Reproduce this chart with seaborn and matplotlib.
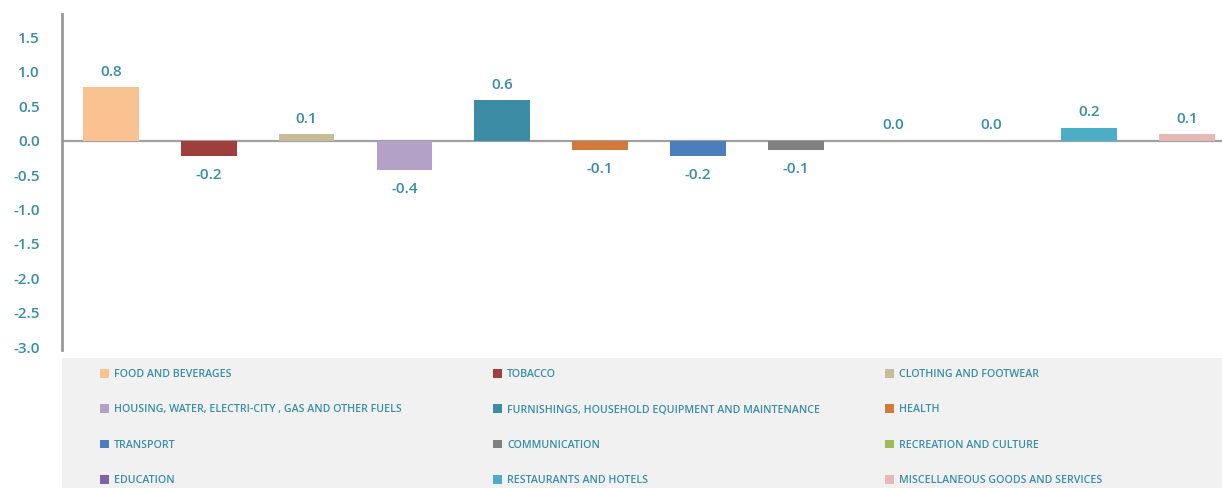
import matplotlib
matplotlib.use("Agg")
import matplotlib.pyplot as plt
import seaborn as sns
from matplotlib.patches import Patch, Rectangle

categories = [
    "FOOD AND BEVERAGES",
    "TOBACCO",
    "CLOTHING AND FOOTWEAR",
    "HOUSING, WATER, ELECTRI-CITY , GAS AND OTHER FUELS",
    "FURNISHINGS, HOUSEHOLD EQUIPMENT AND MAINTENANCE",
    "HEALTH",
    "TRANSPORT",
    "COMMUNICATION",
    "RECREATION AND CULTURE",
    "EDUCATION",
    "RESTAURANTS AND HOTELS",
    "MISCELLANEOUS GOODS AND SERVICES",
]
values = [0.78, -0.22, 0.09, -0.42, 0.59, -0.13, -0.22, -0.13, 0.0, 0.0, 0.19, 0.09]
labels = ["0.8", "-0.2", "0.1", "-0.4", "0.6", "-0.1", "-0.2", "-0.1", "0.0", "0.0", "0.2", "0.1"]
colors = ["#f9c290", "#9e3e3d", "#c6bd98", "#b3a1c8", "#3b8ca4", "#d07b3a",
          "#4b7ebd", "#808080", "#9cbb59", "#8064a2", "#4badc6", "#e6b9b8"]
yticks = [-3.0, -2.5, -2.0, -1.5, -1.0, -0.5, 0.0, 0.5, 1.0, 1.5]

teal = "#3a8ea5"
sns.set_style("white")
plt.rcParams["font.family"] = ["Open Sans", "DejaVu Sans"]

fig = plt.figure(figsize=(12.22, 4.88), dpi=100)
# plot area runs slightly past the right edge, like the original
ax = fig.add_axes([62 / 1222, 1 - 350 / 488, 1174 / 1222, 336 / 488])

sns.barplot(x=categories, y=values, hue=categories, palette=colors,
            legend=False, width=0.57, saturation=1, linewidth=0, ax=ax)

for i, (v, lab) in enumerate(zip(values, labels)):
    ax.annotate(lab, (i, v), xytext=(0, 6 if v >= 0 else -9),
                textcoords="offset points", ha="center",
                va="bottom" if v >= 0 else "top",
                color=teal, fontsize=11, fontweight="semibold")

ax.axhline(0, color="#a0a0a0", lw=1.6, zorder=0.5)
ax.set_xlim(-0.5, 11.5)
ax.set_ylim(-3.04, 1.84)
ax.set_yticks(yticks)
ax.set_yticklabels([f"{t:.1f}" for t in yticks], color=teal,
                   fontsize=11, fontweight="semibold")
ax.tick_params(axis="y", length=0, pad=16)
ax.set_xticks([])
ax.set_xlabel("")
ax.set_ylabel("")
for side in ["top", "right", "bottom"]:
    ax.spines[side].set_visible(False)
ax.spines["left"].set_color("#999999")
ax.spines["left"].set_linewidth(2)

# grey legend panel below the plot
fig.patches.append(Rectangle((62 / 1222, 0), 1 - 62 / 1222, 130 / 488,
                             transform=fig.transFigure, facecolor="#f1f1f1",
                             edgecolor="none", zorder=0))

col_x = [100 / 1222, 493 / 1222, 885 / 1222]
for c in range(3):
    idx = list(range(c, 12, 3))
    handles = [Patch(facecolor=colors[i], edgecolor="none") for i in idx]
    leg = fig.legend(handles, [categories[i] for i in idx],
                     loc="upper left", bbox_to_anchor=(col_x[c], 119 / 488),
                     frameon=False, fontsize=7.7, handlelength=0.85,
                     handleheight=0.85, handletextpad=0.45, labelspacing=2.28,
                     borderaxespad=0, borderpad=0)
    for t in leg.get_texts():
        t.set_color(teal)
        t.set_fontweight("semibold")

fig.savefig("out.png", dpi=100)
